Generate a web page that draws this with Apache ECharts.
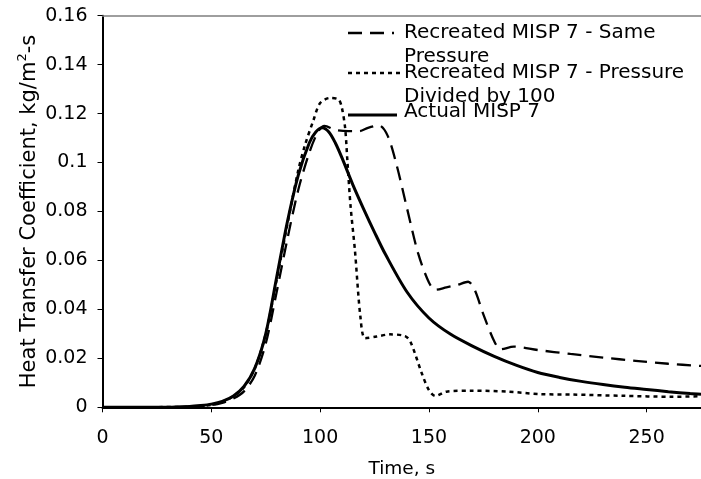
<!DOCTYPE html>
<html>
<head>
<meta charset="utf-8">
<script src="https://cdn.jsdelivr.net/npm/echarts@6/dist/echarts.min.js"></script>
<style>
  html, body { margin: 0; padding: 0; background: #fff; }
  #chart { width: 701px; height: 479px; }
</style>
</head>
<body>
<div id="chart"></div>
<script>
// Heat transfer coefficient over time for three MISP 7 runs
const FONT = '"DejaVu Sans", Verdana, sans-serif';

const xTicks = [0, 50, 100, 150, 200, 250];
const yTicks = [0, 0.02, 0.04, 0.06, 0.08, 0.1, 0.12, 0.14, 0.16];

// Recreated MISP 7 - Same Pressure
const sameT = [0, 40, 50, 55, 60, 65, 70, 75, 80, 85, 90, 95, 99, 102, 107, 113, 118, 122, 127, 131, 135, 140, 145, 150, 153, 158, 163, 168, 171, 175, 180, 183, 189, 200, 215, 230, 245, 260, 275];
const sameV = [0, 0.0002, 0.0009, 0.0018, 0.0035, 0.0065, 0.013, 0.026, 0.047, 0.069, 0.089, 0.104, 0.1125, 0.115, 0.1133, 0.1128, 0.1128, 0.1142, 0.1152, 0.111, 0.0995, 0.081, 0.063, 0.051, 0.048, 0.049, 0.050, 0.0513, 0.048, 0.038, 0.027, 0.0237, 0.0248, 0.0234, 0.0218, 0.0203, 0.019, 0.0178, 0.0169];

// Recreated MISP 7 - Pressure Divided by 100
const divT = [0, 40, 50, 55, 60, 65, 70, 75, 80, 85, 90, 93, 97, 100, 104.5, 108.5, 110, 111.5, 112.5, 114, 116, 118.5, 120.7, 126, 132, 139, 141.5, 146.7, 150, 153, 158, 170, 186, 201, 216, 239, 262, 275];
const divV = [0, 0.0002, 0.001, 0.0022, 0.0045, 0.0082, 0.016, 0.03, 0.052, 0.075, 0.097, 0.107, 0.1175, 0.1243, 0.1264, 0.1257, 0.1223, 0.114, 0.101, 0.082, 0.064, 0.037, 0.0282, 0.0289, 0.0298, 0.0291, 0.0268, 0.0139, 0.007, 0.0046, 0.0064, 0.0068, 0.0064, 0.0054, 0.0052, 0.0047, 0.0043, 0.0045];

// Actual MISP 7
const actualT = [0, 30, 40, 45, 50, 55, 60, 65, 70, 75, 80, 85, 90, 95, 98, 101, 104, 107, 110, 115, 120, 125, 130, 140, 150, 160, 170, 180, 190, 200, 210, 220, 230, 240, 250, 260, 270, 275];
const actualV = [0, 0, 0.0003, 0.0007, 0.0013, 0.0024, 0.0045, 0.0085, 0.016, 0.03, 0.053, 0.076, 0.095, 0.108, 0.1125, 0.1142, 0.1125, 0.108, 0.102, 0.091, 0.081, 0.0715, 0.0625, 0.047, 0.0365, 0.0298, 0.025, 0.0208, 0.0172, 0.0142, 0.0122, 0.0106, 0.0093, 0.0082, 0.0073, 0.0064, 0.0056, 0.0053];

const seriesNames = [
  'Recreated MISP 7 - Same\nPressure',
  'Recreated MISP 7 - Pressure\nDivided by 100',
  'Actual MISP 7'
];

const pairs = (t, v) => t.map((x, i) => [x, v[i]]);

const lineStyles = [
  { color: '#000', width: 2.3, type: [14, 8] },
  { color: '#000', width: 2.5, type: [4, 4] },
  { color: '#000', width: 3, type: 'solid' }
];

// Legend drawn as line swatches with multi-line captions beside them
const legendRows = [
  { y: 33, x2: 394, text: seriesNames[0] },
  { y: 73, x2: 400, text: seriesNames[1] },
  { y: 115, x2: 397, text: seriesNames[2], textY: 112.5 }
];
const legendGraphics = [];
legendRows.forEach((row, i) => {
  const ls = lineStyles[i];
  legendGraphics.push({
    type: 'line',
    shape: { x1: 348, y1: row.y, x2: row.x2, y2: row.y },
    style: { stroke: ls.color, lineWidth: ls.width, lineDash: Array.isArray(ls.type) ? ls.type : null }
  });
  const ty = row.textY !== undefined ? row.textY : row.y;
  legendGraphics.push({
    type: 'text',
    x: 404,
    y: ty - 12.5,
    style: {
      text: row.text,
      font: '20px ' + FONT,
      fill: '#000',
      lineHeight: 24.5,
      verticalAlign: 'top',
      align: 'left'
    }
  });
});

const chart = echarts.init(document.getElementById('chart'), null, { renderer: 'canvas' });
chart.setOption({
  animation: false,
  backgroundColor: '#fff',
  textStyle: { fontFamily: FONT },
  grid: { left: 102.5, right: 0, top: 15.7, bottom: 71.7, containLabel: false, outerBoundsMode: 'none' },
  xAxis: [{
    type: 'value',
    min: xTicks[0],
    max: 275,
    interval: xTicks[1] - xTicks[0],
    name: 'Time, s',
    nameLocation: 'middle',
    nameGap: 52,
    nameMoveOverlap: false,
    nameTextStyle: { color: '#000', fontSize: 18.5, fontFamily: FONT },
    axisLine: { lineStyle: { color: '#000', width: 2 } },
    axisTick: { show: true, length: 5, lineStyle: { color: '#000', width: 1 } },
    axisLabel: { color: '#000', fontSize: 19, fontFamily: FONT, margin: 21, showMaxLabel: false },
    splitLine: { show: false }
  }, {
    type: 'value',
    position: 'top',
    min: xTicks[0],
    max: 275,
    axisLine: { show: true, lineStyle: { color: '#7f7f7f', width: 1.5 } },
    axisTick: { show: false },
    axisLabel: { show: false },
    splitLine: { show: false }
  }],
  yAxis: {
    type: 'value',
    min: yTicks[0],
    max: yTicks[yTicks.length - 1],
    interval: yTicks[1] - yTicks[0],
    name: '{a|Heat Transfer Coefficient, kg/m}{s|2}{a|-s}',
    nameLocation: 'middle',
    nameGap: 60,
    nameMoveOverlap: false,
    nameRotate: 90,
    nameTextStyle: {
      color: '#000',
      rich: {
        a: { fontSize: 21, fontFamily: FONT, color: '#000', lineHeight: 26 },
        s: { fontSize: 13, fontFamily: FONT, color: '#000', lineHeight: 26, verticalAlign: 'top' }
      }
    },
    axisLine: { show: true, lineStyle: { color: '#000', width: 2 } },
    axisTick: { show: true, length: 5, lineStyle: { color: '#000', width: 1 } },
    axisLabel: { color: '#000', fontSize: 19, fontFamily: FONT, margin: 15 },
    splitLine: { show: false }
  },
  series: [
    { name: seriesNames[0], type: 'line', data: pairs(sameT, sameV), showSymbol: false, smooth: 0.3, lineStyle: lineStyles[0], z: 3 },
    { name: seriesNames[1], type: 'line', data: pairs(divT, divV), showSymbol: false, smooth: 0.3, lineStyle: lineStyles[1], z: 3 },
    { name: seriesNames[2], type: 'line', data: pairs(actualT, actualV), showSymbol: false, smooth: 0.3, lineStyle: lineStyles[2], z: 4 }
  ],
  graphic: legendGraphics
});
</script>
</body>
</html>
